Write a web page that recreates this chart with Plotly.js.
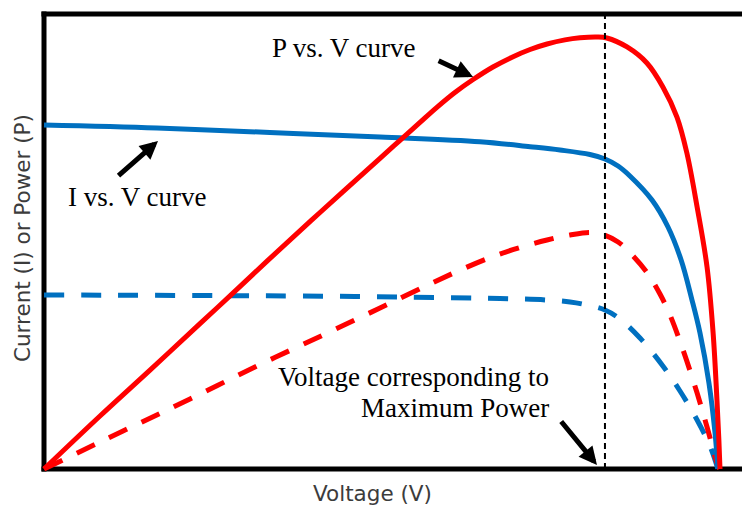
<!DOCTYPE html>
<html>
<head>
<meta charset="utf-8">
<script src="https://cdn.plot.ly/plotly-3.0.1.min.js"></script>
<style>html,body{margin:0;padding:0;background:#fff;}#chart{width:742px;height:506px;}</style>
</head>
<body>
<div id="chart"></div>
<script>
// I vs. V curve (solid blue)
const ivVolt = [0, 3.53, 7.06, 10.5, 13.625, 15.19, 16.125, 17.06, 17.53, 17.94, 18.31, 19.0, 19.5, 19.91, 20.25, 20.5, 20.78, 20.97, 21.06];
const ivCurr = [75.6, 74.95, 73.96, 72.97, 71.93, 70.84, 70.11, 69.12, 68.13, 66.59, 64.4, 59.12, 53.19, 45.93, 37.14, 29.89, 18.9, 7.91, 0];
// P vs. V curve (solid red)
const pvVolt = [0, 1.75, 3.3125, 4.875, 5.8125, 6.97, 8.625, 10.5, 11.125, 11.75, 12.25, 12.84, 13.41, 14.03, 14.66, 15.19, 15.72, 16.28, 16.75, 17.28, 17.59, 18.22, 18.84, 19.34, 19.78, 20.09, 20.41, 20.72, 20.91, 21.03, 21.09, 21.125];
const pvPow = [0, 11.65, 21.74, 31.96, 38.04, 45.69, 56.37, 68.29, 72.24, 76.17, 79.32, 82.75, 85.6, 88.35, 90.62, 92.2, 93.41, 94.31, 94.77, 94.95, 94.73, 92.75, 89.23, 83.96, 77.36, 69.45, 57.58, 44.4, 29.89, 15.16, 6.37, 0];
// lower I vs. V curve (dashed blue)
const ivVolt2 = [0, 4.875, 8.0, 11.125, 14.25, 15.72, 16.44, 16.97, 17.53, 18.0, 18.625, 19.34, 19.875, 20.41, 20.81, 21.06];
const ivCurr2 = [38.24, 38.13, 38.02, 37.8, 37.47, 37.14, 36.7, 36.04, 34.95, 32.97, 28.79, 22.64, 17.14, 10.77, 5.05, 0];
// lower P vs. V curve (dashed red)
const pvVolt2 = [0, 2.469, 4.5625, 6.656, 8.719, 10.5, 12.0625, 13.156, 14.156, 15.03, 15.72, 16.44, 17.06, 17.47, 17.94, 18.41, 18.875, 19.25, 19.5625, 19.97, 20.41, 20.72, 21.03, 21.11];
const pvPow2 = [0, 8.35, 15.38, 22.64, 29.45, 35.38, 40.66, 44.18, 47.03, 49.01, 50.33, 51.43, 51.98, 51.54, 49.89, 46.81, 42.86, 38.46, 33.85, 26.15, 16.7, 9.23, 1.32, 0];
// voltage at maximum power
const vmp = 17.53;
// labels
const labels = {
  iv: "I vs. V curve",
  pv: "P vs. V curve",
  mp1: "Voltage corresponding to",
  mp2: "Maximum Power",
  xTitle: "Voltage (V)",
  yTitle: "Current (I) or Power (P)"
};

const RED = "#ff0000", BLUE = "#0070c0";
const serif = {family: "Liberation Serif, Times New Roman, serif", size: 27, color: "#000"};
const sans = {family: "DejaVu Sans, Verdana, sans-serif", size: 21.5, color: "#3c3c3c"};

function tr(x, y, color, dash) {
  return {x: x, y: y, type: "scatter", mode: "lines",
    line: {color: color, width: 5, dash: dash, shape: "spline", smoothing: 1},
    hoverinfo: "skip", showlegend: false};
}

const data = [
  tr(ivVolt2, ivCurr2, BLUE, "20px,17px"),
  tr(pvVolt2, pvPow2, RED, "20px,16px"),
  tr(ivVolt, ivCurr, BLUE, "solid"),
  tr(pvVolt, pvPow, RED, "solid")
];

function arrow(x, y, ax, ay) {
  return {x: x, y: y, xref: "x", yref: "y", ax: ax, ay: ay, text: "", showarrow: true,
    arrowhead: 2, arrowsize: 0.72, arrowwidth: 5, arrowcolor: "#000", standoff: 0, startstandoff: 0};
}

const layout = {
  width: 742, height: 506,
  margin: {l: 36, r: 0, t: 10, b: 30, pad: 0},
  paper_bgcolor: "#fff", plot_bgcolor: "#fff",
  showlegend: false,
  xaxis: {range: [-0.25, 21.8125], showgrid: false, zeroline: false, showticklabels: false, ticks: "", showline: false, fixedrange: true},
  yaxis: {range: [-1.538, 100.88], showgrid: false, zeroline: false, showticklabels: false, ticks: "", showline: false, fixedrange: true},
  shapes: [
    {type: "line", xref: "x", yref: "y", x0: -0.08, x1: 21.9, y0: 100, y1: 100, line: {color: "#000", width: 5}, layer: "below"},
    {type: "line", xref: "x", yref: "y", x0: 0, x1: 0, y0: -0.55, y1: 100.55, line: {color: "#000", width: 5}, layer: "below"},
    {type: "line", xref: "x", yref: "y", x0: -0.08, x1: 21.9, y0: 0, y1: 0, line: {color: "#000", width: 5}, layer: "below"},
    {type: "line", xref: "x", yref: "y", x0: vmp, x1: vmp, y0: 0, y1: 100, line: {color: "#000", width: 2, dash: "6px,4px"}, layer: "above"}
  ],
  annotations: [
    {x: 2.906, y: 59.8, xref: "x", yref: "y", text: labels.iv, showarrow: false, font: serif, xanchor: "center", yanchor: "middle"},
    {x: 9.375, y: 92.6, xref: "x", yref: "y", text: labels.pv, showarrow: false, font: serif, xanchor: "center", yanchor: "middle"},
    {x: 15.84, y: 20.2, xref: "x", yref: "y", text: labels.mp1, showarrow: false, font: serif, xanchor: "right", yanchor: "middle"},
    {x: 15.84, y: 13.4, xref: "x", yref: "y", text: labels.mp2, showarrow: false, font: serif, xanchor: "right", yanchor: "middle"},
    {x: 0.4773, y: -0.0365, xref: "paper", yref: "paper", text: labels.xTitle, showarrow: false, font: sans, xanchor: "center", yanchor: "middle"},
    {x: -0.0198, y: 0.5107, xref: "paper", yref: "paper", text: labels.yTitle, showarrow: false, font: sans, textangle: -90, xanchor: "center", yanchor: "middle"},
    arrow(3.5625, 72.09, -41, 36),
    arrow(13.41, 86.15, -36, -17),
    arrow(17.28, 0.88, -37, -45)
  ]
};

Plotly.newPlot("chart", data, layout, {displayModeBar: false, staticPlot: true});
</script>
</body>
</html>
